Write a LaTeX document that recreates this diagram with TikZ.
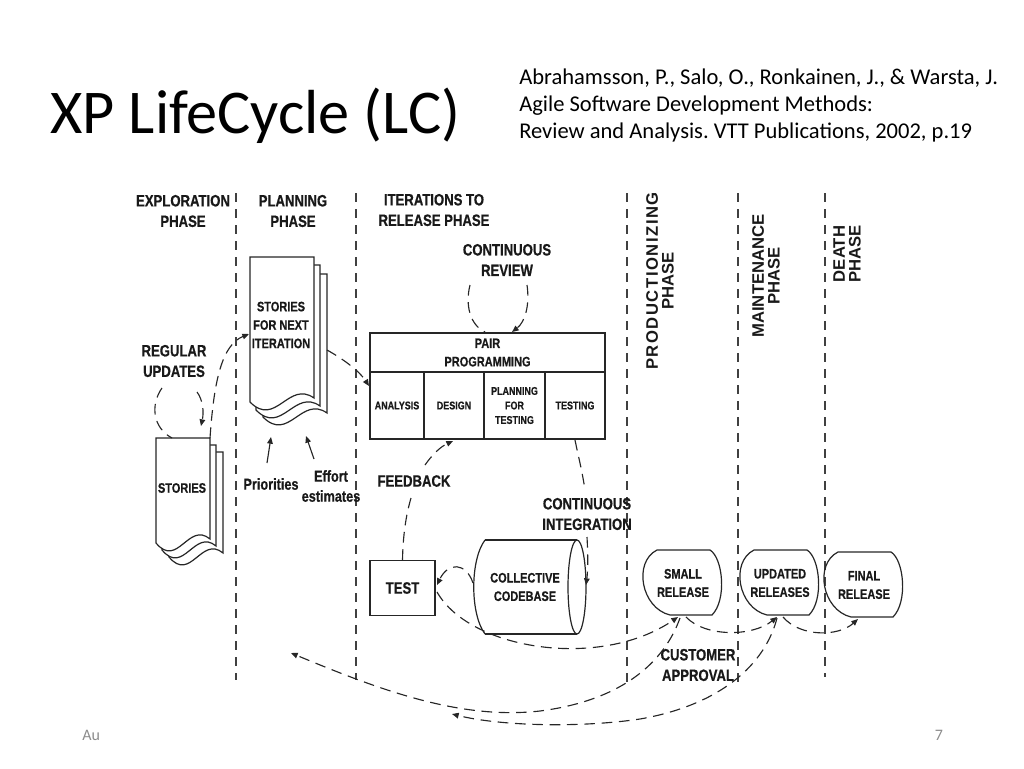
\documentclass[tikz,border=0pt]{standalone}
\usepackage{fontspec}
\setmainfont{Liberation Sans}
\newfontfamily\calfont{Carlito}
\newfontfamily\narfont[FakeStretch=0.8,FakeBold=0.6]{Liberation Sans Bold}
\newfontfamily\bldfont{Liberation Sans Bold}
\newfontfamily\bldspaced[LetterSpace=9]{Liberation Sans Bold}
\usetikzlibrary{arrows.meta}
\frenchspacing
\newcommand\docpage[4]{%
  \filldraw[ink, fill=white] (#1,#2) -- (#3,#2) -- (#3,{#4-4})
    .. controls ({#1+0.6*(#3-#1)},{#4-22}) and ({#1+0.4*(#3-#1)},{#4+26}) .. (#1,#4) -- cycle;}
\newcommand\relshape[2]{%
  \draw[ink] ({#1-26},{#2-33}) -- ({#1+27},{#2-33})
    .. controls ({#1+40},{#2-25}) and ({#1+44},{#2+17}) .. ({#1+29},{#2+32})
    -- ({#1-13},{#2+32})
    .. controls ({#1-42},{#2+25}) and ({#1-50},{#2-21}) .. cycle;}
\begin{document}
\begin{tikzpicture}[x=0.75pt,y=-0.75pt,
  ink/.style={draw=black!85, line width=0.9pt},
  phaseline/.style={draw=black!75, line width=0.9pt, dash pattern=on 7pt off 5pt},
  flowplain/.style={draw=black!85, line width=0.85pt, dash pattern=on 8pt off 5pt},
  flow/.style={flowplain, -{Triangle[length=5pt,width=4.2pt]}},
  solidarrow/.style={draw=black!85, line width=0.85pt, -{Triangle[length=5pt,width=4.2pt]}},
  lbl/.style={font=\narfont\fontsize{12.3}{15.4}\selectfont, align=center, inner sep=0pt, text=black!90},
  plbl/.style={font=\narfont\fontsize{11.9}{15}\selectfont, align=center, inner sep=0pt, text=black!90},
  ntext/.style={font=\narfont\fontsize{10.3}{13.8}\selectfont, align=center, inner sep=0pt, text=black!90},
  ctext/.style={font=\narfont\fontsize{8.4}{10.9}\selectfont, align=center, inner sep=0pt, text=black!90},
  rot/.style={font=\bldfont\fontsize{12.5}{11.8}\selectfont, align=center, rotate=90, inner sep=0pt, text=black!90},
  cell/.style={draw=black!85, line width=1pt, inner sep=0pt},
]
\useasboundingbox (0,0) rectangle (1024,768);

% title and citation
\node[anchor=base west, font=\calfont\fontsize{46.7}{50}\selectfont, inner sep=0pt] (title) at (50,133) {XP LifeCycle (LC)};
\node[anchor=base west, font=\calfont\fontsize{16.9}{20}\selectfont, inner sep=0pt] (cite1) at (519,84) {Abrahamsson, P., Salo, O., Ronkainen, J., \& Warsta, J.};
\node[anchor=base west, font=\calfont\fontsize{16.9}{20}\selectfont, inner sep=0pt] (cite2) at (519,111) {Agile Software Development Methods:};
\node[anchor=base west, font=\calfont\fontsize{16.9}{20}\selectfont, inner sep=0pt] (cite3) at (519,138) {Review and Analysis. VTT Publications, 2002, p.19};

% footer
\node[anchor=base west, font=\calfont\fontsize{12}{14}\selectfont, text=black!45, inner sep=0pt] (date) at (82,740) {Au};
\node[anchor=base, font=\calfont\fontsize{12}{14}\selectfont, text=black!45, inner sep=0pt] (pagenum) at (939,740) {7};

% phase separators
\coordinate (s1t) at (236,193); \coordinate (s1b) at (236,680);
\coordinate (s2t) at (356,193); \coordinate (s2b) at (356,680);
\coordinate (s3t) at (627,193); \coordinate (s3b) at (627,684);
\coordinate (s4t) at (738,193); \coordinate (s4b) at (738,684);
\coordinate (s5t) at (825,193); \coordinate (s5b) at (825,677);
\draw[phaseline] (s1t) -- (s1b);
\draw[phaseline] (s2t) -- (s2b);
\draw[phaseline] (s3t) -- (s3b);
\draw[phaseline] (s4t) -- (s4b);
\draw[phaseline] (s5t) -- (s5b);

% phase headers
\node[lbl] (hexp) at (183,211) {EXPLORATION\\PHASE};
\node[lbl] (hplan) at (293,211) {PLANNING\\PHASE};
\node[lbl] (hiter) at (434,210) {ITERATIONS TO\\RELEASE PHASE};
\node[rot] (hprod) at (660,281) {{\bldspaced PRODUCTIONIZING}\\PHASE};
\node[rot] (hmaint) at (766,276) {MAINTENANCE\\PHASE};
\node[rot] (hdeath) at (847,254) {DEATH\\PHASE};

% stories stack
\docpage{169}{452}{223}{557}
\docpage{162}{445}{216}{550}
\docpage{156}{438}{210}{543}
\node[ntext] (stories) at (182,488) {STORIES};

% stories for next iteration stack
\docpage{263}{274}{327}{417}
\docpage{256}{265}{320}{410}
\docpage{250}{257}{314}{402}
\node[ntext] (snext) at (281,325) {STORIES\\FOR NEXT\\ITERATION};

% pair programming table
\node[cell, minimum width=176.25pt, minimum height=29.25pt, ntext] (pair) at (487.5,352.5) {PAIR\\PROGRAMMING};
\node[cell, minimum width=40.5pt, minimum height=50.25pt, ctext] (ana) at (397,405.5) {ANALYSIS};
\node[cell, minimum width=45pt, minimum height=50.25pt, ctext] (des) at (454,405.5) {DESIGN};
\node[cell, minimum width=45.75pt, minimum height=50.25pt, ctext] (pft) at (514.5,405.5) {PLANNING\\FOR\\TESTING};
\node[cell, minimum width=45pt, minimum height=50.25pt, ctext] (tst) at (575,405.5) {TESTING};

% test box
\node[cell, minimum width=48.75pt, minimum height=41.25pt, lbl] (test) at (402.5,588) {TEST};

% collective codebase cylinder
\draw[ink] (485,540) -- (577,540);
\draw[ink] (485,634) -- (577,634);
\draw[ink] (485,540) .. controls (470,560) and (470,614) .. (485,634);
\draw[ink] (577,587) ellipse [x radius=9, y radius=47];
\node[ntext] (cb) at (525,587) {COLLECTIVE\\CODEBASE};

% releases
\relshape{683}{583}
\node[ntext] (sr) at (683,583) {SMALL\\RELEASE};
\relshape{780}{583}
\node[ntext] (ur) at (780,583) {UPDATED\\RELEASES};
\relshape{864}{585}
\node[ntext] (fr) at (864,585) {FINAL\\RELEASE};

% labels
\node[lbl] (rupd) at (174,361) {REGULAR\\UPDATES};
\node[lbl] (crev) at (507,260) {CONTINUOUS\\REVIEW};
\node[lbl] (feed) at (414,481) {FEEDBACK};
\node[lbl] (cint) at (587,514) {CONTINUOUS\\INTEGRATION};
\node[lbl] (capp) at (698,665) {CUSTOMER\\APPROVAL};
\node[plbl] (prio) at (271,484) {Priorities};
\node[plbl] (eff) at (331,486) {Effort\\estimates};

% regular updates loop
\coordinate (ru1) at (162,388);
\coordinate (ru2) at (172,438);
\coordinate (ru3) at (197,392);
\coordinate (ru4) at (201,426);
\draw[flowplain] (ru1) .. controls (150,405) and (153,428) .. (ru2);
\draw[flow] (ru3) .. controls (203,400) and (204,412) .. (ru4);

% stories -> stories for next iteration
\coordinate (st1) at (210,438);
\coordinate (sn1) at (249,334);
\draw[flow] (st1) .. controls (214,380) and (222,345) .. (sn1);

% stories for next iteration -> analysis
\coordinate (sn2) at (327,350);
\coordinate (an1) at (369,386);
\draw[flow] (sn2) .. controls (345,360) and (360,372) .. (an1);

% continuous review loop
\coordinate (cr1) at (470,285);
\coordinate (cr2) at (485,332);
\coordinate (cr3) at (527,285);
\coordinate (cr4) at (512,332);
\draw[flowplain] (cr1) .. controls (465,305) and (470,325) .. (cr2);
\draw[flow] (cr3) .. controls (530,305) and (525,322) .. (cr4);

% priorities and effort estimates
\coordinate (pr1) at (267,463);
\coordinate (pr2) at (271,437);
\coordinate (ef1) at (314,459);
\coordinate (ef2) at (306,436);
\draw[solidarrow] (pr1) -- (pr2);
\draw[solidarrow] (ef1) -- (ef2);

% feedback
\coordinate (fb1) at (411,498);
\coordinate (fb2) at (425,465);
\coordinate (fb3) at (453,441);
\draw[flowplain] (test.north) .. controls (403,535) and (406,515) .. (fb1);
\draw[flow] (fb2) .. controls (432,455) and (440,447) .. (fb3);

% continuous integration
\coordinate (ci1) at (575,440);
\coordinate (ci2) at (585,490);
\coordinate (ci3) at (587,537);
\coordinate (ci4) at (586,585);
\draw[flowplain] (ci1) .. controls (578,455) and (582,470) .. (ci2);
\draw[flow] (ci3) .. controls (588,555) and (588,570) .. (ci4);

% codebase -> test
\coordinate (cb1) at (473,583);
\coordinate (te1) at (437,585);
\draw[flow] (cb1) .. controls (466,562) and (448,562) .. (te1);

% test -> small release
\coordinate (te2) at (437,592);
\coordinate (sr1) at (678,617);
\draw[flow] (te2) .. controls (470,650) and (600,670) .. (sr1);

% small -> updated -> final
\coordinate (sr2) at (686,617);
\coordinate (ur1) at (777,617);
\coordinate (ur2) at (783,617);
\coordinate (fr1) at (858,619);
\draw[flow] (sr2) .. controls (705,637) and (752,637) .. (ur1);
\draw[flow] (ur2) .. controls (800,637) and (838,637) .. (fr1);

% customer approval returns
\coordinate (ca1) at (680,618);
\coordinate (ca2) at (291,653);
\draw[flow] (ca1) .. controls (665,660) and (625,700) .. (540,711) .. controls (460,720) and (380,690) .. (ca2);
\coordinate (cb2) at (777,618);
\coordinate (cb3) at (452,714);
\draw[flow] (cb2) .. controls (765,665) and (720,705) .. (640,719) .. controls (580,728) and (500,726) .. (cb3);
\end{tikzpicture}
\end{document}
